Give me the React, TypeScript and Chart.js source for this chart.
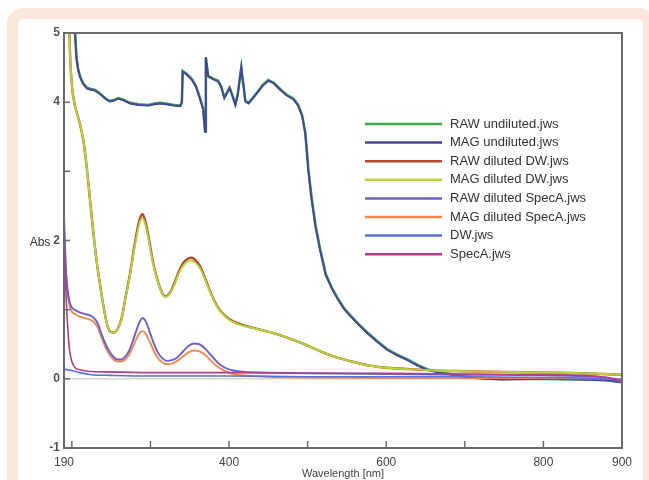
import React, { useEffect, useRef } from "react";
import { Chart, registerables } from "chart.js";

Chart.register(...registerables);

// ---------- data ----------
const X_TICKS = [190, 200, 300, 400, 500, 600, 700, 800, 900];
const X_LABELED = [190, 400, 600, 800, 900];
const Y_TICKS = [-1, 0, 1, 2, 3, 4, 5];
const Y_LABELED = [5, 4, 2, 0, -1];

const SERIES_NAMES = [
  "RAW undiluted.jws",
  "MAG undiluted.jws",
  "RAW diluted DW.jws",
  "MAG diluted DW.jws",
  "RAW diluted SpecA.jws",
  "MAG diluted SpecA.jws",
  "DW.jws",
  "SpecA.jws",
];

const SERIES_COLORS = [
  "#45a74f",
  "#43449c",
  "#b3472f",
  "#b8d43a",
  "#6d5fc8",
  "#f08a50",
  "#5b6fd8",
  "#b23d8c",
];

const rawUndiluted: [number, number][] = [
  [196, 6.0], [200, 5.6], [204, 5.0], [206, 4.63], [208, 4.48], [210.5, 4.37], [214, 4.28], [219, 4.21],
  [224, 4.19], [229, 4.18], [233, 4.15], [238, 4.1], [243, 4.05], [248, 4.02], [253, 4.03], [259, 4.06],
  [265, 4.04], [274, 3.99], [285, 3.97], [297, 3.96], [305, 3.98], [312, 3.99], [320, 3.98], [330, 3.96],
  [338, 3.95], [340, 4.0], [341, 4.45], [346, 4.41], [353, 4.33], [358, 4.23], [363, 4.06], [367, 3.91],
  [369.5, 3.58], [370.5, 4.64], [373.5, 4.38], [380, 4.34], [386, 4.31], [390, 4.23], [394, 4.07], [397, 4.13],
  [400.7, 4.21], [404, 4.11], [408, 3.97], [411, 4.11], [413.5, 4.33], [415.6, 4.5], [417, 4.36], [418.6, 4.23],
  [420.7, 4.02], [424.9, 3.99], [430, 4.06], [435.6, 4.14], [443, 4.25], [450, 4.32], [457, 4.28], [465, 4.19],
  [473, 4.11], [482, 4.05], [488, 3.96], [493, 3.81], [497, 3.56], [501, 3.02], [505, 2.62], [510, 2.22],
  [516, 1.87], [523, 1.52], [531, 1.31], [539, 1.15], [547, 1.01], [555, 0.91], [565, 0.79], [576, 0.67],
  [588, 0.55], [601, 0.43], [614, 0.35], [627, 0.28], [640, 0.2], [652, 0.14], [667, 0.1], [682, 0.07],
  [703, 0.03], [725, 0.01], [746, 0.0], [800, 0.0], [850, -0.01], [880, -0.02], [900, -0.05],
];

const magUndiluted: [number, number][] = [
  [196, 6.0], [200, 5.6], [204, 5.0], [206, 4.62], [208, 4.47], [210.5, 4.36], [214, 4.27], [219, 4.2],
  [224, 4.18], [229, 4.17], [233, 4.14], [238, 4.1], [243, 4.05], [248, 4.01], [253, 4.02], [259, 4.05],
  [265, 4.03], [274, 3.98], [285, 3.96], [297, 3.95], [305, 3.97], [312, 3.98], [320, 3.97], [330, 3.95],
  [338, 3.94], [340, 4.0], [341, 4.44], [346, 4.4], [353, 4.32], [358, 4.22], [363, 4.05], [367, 3.9],
  [369.5, 3.57], [370.5, 4.65], [373.5, 4.37], [380, 4.33], [386, 4.3], [390, 4.22], [394, 4.06], [397, 4.12],
  [400.7, 4.2], [404, 4.1], [408, 3.96], [411, 4.1], [413.5, 4.32], [415.6, 4.51], [417, 4.35], [418.6, 4.22],
  [420.7, 4.01], [424.9, 3.98], [430, 4.05], [435.6, 4.13], [443, 4.24], [450, 4.31], [457, 4.27], [465, 4.18],
  [473, 4.1], [482, 4.04], [488, 3.95], [493, 3.8], [497, 3.55], [501, 3.0], [505, 2.6], [510, 2.2],
  [516, 1.85], [523, 1.5], [531, 1.3], [539, 1.14], [547, 1.0], [555, 0.9], [565, 0.78], [576, 0.66],
  [588, 0.54], [601, 0.42], [614, 0.34], [627, 0.27], [640, 0.19], [652, 0.13], [667, 0.09], [682, 0.06],
  [703, 0.02], [725, 0.0], [746, -0.01], [800, 0.0], [850, -0.01], [880, -0.02], [900, -0.05],
];

const rawDilutedDW: [number, number][] = [
  [196, 5.3], [198, 4.6], [200, 4.25], [203, 4.0], [207, 3.82], [211, 3.65], [215, 3.42], [219, 3.05],
  [223, 2.6], [227, 2.15], [231, 1.75], [236, 1.35], [241, 1.0], [245, 0.78], [249, 0.68], [253, 0.67],
  [258, 0.72], [263, 0.86], [268, 1.16], [274, 1.52], [279, 1.88], [284, 2.2], [287, 2.33], [290, 2.38],
  [293, 2.3], [297, 2.09], [301, 1.83], [305, 1.6], [310, 1.39], [315, 1.24], [319, 1.19], [324, 1.23],
  [330, 1.37], [336, 1.55], [342, 1.68], [348, 1.74], [352, 1.75], [357, 1.72], [363, 1.63], [370, 1.44],
  [378, 1.21], [386, 1.03], [395, 0.91], [405, 0.83], [420, 0.77], [440, 0.71], [460, 0.65], [480, 0.57],
  [500, 0.48], [520, 0.38], [540, 0.3], [560, 0.24], [580, 0.19], [600, 0.16], [630, 0.14], [660, 0.12],
  [700, 0.11], [750, 0.1], [800, 0.09], [850, 0.08], [900, 0.06],
];

const magDilutedDW: [number, number][] = [
  [196, 5.3], [198, 4.6], [200, 4.25], [203, 4.0], [207, 3.82], [211, 3.65], [215, 3.42], [219, 3.05],
  [223, 2.6], [227, 2.15], [231, 1.75], [236, 1.35], [241, 1.0], [245, 0.78], [249, 0.68], [253, 0.67],
  [258, 0.72], [263, 0.85], [268, 1.15], [274, 1.5], [279, 1.85], [284, 2.15], [287, 2.28], [290, 2.32],
  [293, 2.25], [297, 2.05], [301, 1.8], [305, 1.58], [310, 1.38], [315, 1.23], [319, 1.18], [324, 1.22],
  [330, 1.35], [336, 1.52], [342, 1.64], [348, 1.7], [352, 1.71], [357, 1.68], [363, 1.6], [370, 1.42],
  [378, 1.2], [386, 1.02], [395, 0.9], [405, 0.82], [420, 0.76], [440, 0.71], [460, 0.65], [480, 0.57],
  [500, 0.48], [520, 0.38], [540, 0.3], [560, 0.24], [580, 0.19], [600, 0.16], [630, 0.14], [660, 0.12],
  [700, 0.11], [750, 0.1], [800, 0.09], [850, 0.08], [900, 0.06],
];

const rawDilutedSpecA: [number, number][] = [
  [190, 2.35], [192, 1.7], [194, 1.35], [197, 1.12], [200, 1.03], [205, 0.99], [210, 0.96], [216, 0.94],
  [222, 0.92], [228, 0.88], [233, 0.8], [238, 0.64], [243, 0.5], [248, 0.39], [253, 0.32], [258, 0.28],
  [263, 0.28], [268, 0.32], [273, 0.41], [278, 0.56], [283, 0.73], [287, 0.84], [290, 0.88], [294, 0.83],
  [299, 0.68], [304, 0.52], [309, 0.39], [315, 0.3], [321, 0.26], [327, 0.27], [334, 0.31], [341, 0.39],
  [348, 0.47], [355, 0.51], [362, 0.5], [370, 0.43], [378, 0.33], [386, 0.23], [395, 0.16], [405, 0.12],
  [420, 0.1], [450, 0.09], [500, 0.08], [600, 0.07], [700, 0.06], [800, 0.05], [850, 0.04], [880, 0.02],
  [900, -0.02],
];

const magDilutedSpecA: [number, number][] = [
  [190, 2.2], [192, 1.6], [194, 1.28], [197, 1.06], [200, 0.97], [205, 0.93], [210, 0.9], [216, 0.88],
  [222, 0.86], [228, 0.82], [233, 0.74], [238, 0.59], [243, 0.45], [248, 0.35], [253, 0.28], [258, 0.25],
  [263, 0.25], [268, 0.28], [273, 0.35], [278, 0.47], [283, 0.6], [287, 0.67], [290, 0.69], [294, 0.65],
  [299, 0.54], [304, 0.41], [309, 0.31], [315, 0.24], [321, 0.21], [327, 0.22], [334, 0.26], [341, 0.32],
  [348, 0.38], [355, 0.41], [362, 0.4], [370, 0.34], [378, 0.25], [386, 0.17], [395, 0.11], [405, 0.07],
  [420, 0.05], [450, 0.03], [500, 0.02], [600, 0.01], [700, 0.01], [800, 0.01], [900, 0.0],
];

const dw: [number, number][] = [
  [190, 0.14], [200, 0.12], [210, 0.09], [225, 0.06], [250, 0.05], [300, 0.04], [400, 0.04], [500, 0.03],
  [600, 0.03], [700, 0.03], [800, 0.02], [850, 0.01], [900, -0.02],
];

const specA: [number, number][] = [
  [190, 2.0], [191, 1.7], [193, 1.1], [195, 0.7], [197, 0.42], [200, 0.25], [204, 0.16], [210, 0.13],
  [220, 0.11], [250, 0.1], [300, 0.09], [400, 0.09], [500, 0.08], [600, 0.08], [700, 0.07], [800, 0.06],
  [850, 0.05], [880, 0.02], [890, -0.01], [900, -0.05],
];

const SERIES_DATA = [
  rawUndiluted,
  magUndiluted,
  rawDilutedDW,
  magDilutedDW,
  rawDilutedSpecA,
  magDilutedSpecA,
  dw,
  specA,
];
// drawing order (higher drawn first / underneath)
const SERIES_ORDER = [8, 7, 6, 5, 3, 4, 2, 1];
const SERIES_WIDTH = [2.6, 1.9, 2.4, 1.9, 1.9, 1.9, 1.6, 1.6];
const SERIES_SMOOTH = [false, false, true, true, true, true, true, true];

const FONT = "'Liberation Sans', Arial, sans-serif";

const decorPlugin = {
  id: "decor",
  beforeDatasetsDraw(chart: any) {
    const { ctx, chartArea: a, scales } = chart;
    const y0 = scales.y.getPixelForValue(0);
    ctx.save();
    ctx.strokeStyle = "#d6d6d6";
    ctx.lineWidth = 1.5;
    ctx.beginPath();
    ctx.moveTo(a.left, y0);
    ctx.lineTo(a.right, y0);
    ctx.stroke();
    ctx.restore();
  },
  afterDatasetsDraw(chart: any) {
    const { ctx, chartArea: a, scales } = chart;
    ctx.save();
    // frame
    ctx.strokeStyle = "#6a6a6a";
    ctx.lineWidth = 2;
    ctx.strokeRect(a.left, a.top, a.right - a.left, a.bottom - a.top);
    // inward ticks
    ctx.lineWidth = 1.5;
    ctx.beginPath();
    X_TICKS.forEach((v) => {
      if (v === 190 || v === 900) return;
      const x = scales.x.getPixelForValue(v);
      ctx.moveTo(x, a.bottom);
      ctx.lineTo(x, a.bottom - 7);
    });
    Y_TICKS.forEach((v) => {
      const y = scales.y.getPixelForValue(v);
      ctx.moveTo(a.left, y);
      ctx.lineTo(a.left + 6, y);
    });
    ctx.stroke();
    // y-axis title
    ctx.fillStyle = "#333";
    ctx.font = `12px ${FONT}`;
    ctx.textAlign = "center";
    ctx.textBaseline = "middle";
    ctx.fillText("Abs", 40, scales.y.getPixelForValue(2) + 2);
    // x-axis title
    ctx.font = `11px ${FONT}`;
    ctx.fillStyle = "#444";
    ctx.fillText("Wavelength [nm]", (a.left + a.right) / 2, 474);
    // legend
    ctx.textAlign = "left";
    ctx.font = `13px ${FONT}`;
    SERIES_NAMES.forEach((name, i) => {
      const y = 124 + i * 18.6;
      ctx.strokeStyle = SERIES_COLORS[i];
      ctx.lineWidth = 2.5;
      ctx.beginPath();
      ctx.moveTo(365, y);
      ctx.lineTo(442, y);
      ctx.stroke();
      ctx.fillStyle = "#333";
      ctx.fillText(name, 450, y);
    });
    ctx.restore();
  },
};

export default function App() {
  const ref = useRef<HTMLCanvasElement | null>(null);

  useEffect(() => {
    if (!ref.current) return;
    Chart.defaults.font.family = FONT;
    const datasets = SERIES_NAMES.map((name, i) => ({
      label: name,
      data: SERIES_DATA[i].map(([x, y]) => ({ x, y })),
      borderColor: SERIES_COLORS[i],
      backgroundColor: SERIES_COLORS[i],
      borderWidth: SERIES_WIDTH[i],
      pointRadius: 0,
      order: SERIES_ORDER[i],
      tension: 0,
      cubicInterpolationMode: SERIES_SMOOTH[i] ? "monotone" : "default",
      fill: false,
    }));
    const chart = new Chart(ref.current, {
      type: "line",
      data: { datasets } as any,
      options: {
        animation: false,
        responsive: false,
        devicePixelRatio: 1,
        layout: { padding: { left: 0, top: 33, right: 27, bottom: 0 } },
        plugins: { legend: { display: false }, tooltip: { enabled: false } },
        scales: {
          x: {
            type: "linear",
            min: 190,
            max: 900,
            grid: { display: false, drawTicks: false },
            border: { display: false },
            afterBuildTicks: (scale: any) => {
              scale.ticks = X_TICKS.map((v) => ({ value: v }));
            },
            afterFit: (scale: any) => {
              scale.height = 32;
            },
            ticks: {
              autoSkip: false,
              maxRotation: 0,
              padding: 7,
              color: "#444",
              font: { size: 12 },
              callback: (v: any) => (X_LABELED.includes(Number(v)) ? String(v) : ""),
            },
          },
          y: {
            type: "linear",
            min: -1,
            max: 5,
            grid: { display: false, drawTicks: false },
            border: { display: false },
            afterBuildTicks: (scale: any) => {
              scale.ticks = Y_TICKS.map((v) => ({ value: v }));
            },
            afterFit: (scale: any) => {
              scale.width = 64;
            },
            ticks: {
              autoSkip: false,
              padding: 4,
              color: "#555",
              font: { size: 12, weight: "bold" },
              callback: (v: any) => (Y_LABELED.includes(Number(v)) ? String(v) : ""),
            },
          },
        },
      } as any,
      plugins: [decorPlugin],
    });
    return () => chart.destroy();
  }, []);

  return (
    <div
      style={{
        position: "fixed",
        left: 0,
        top: 0,
        width: 649,
        height: 480,
        overflow: "hidden",
        background: "#fff",
      }}
    >
      <div
        style={{
          position: "absolute",
          left: 7,
          top: 8,
          width: 647,
          height: 600,
          border: "11px solid #fbe8dc",
          borderRadius: 16,
          boxSizing: "border-box",
        }}
      />
      <canvas
        ref={ref}
        width={649}
        height={480}
        style={{ position: "absolute", left: 0, top: 0, width: 649, height: 480, display: "block" }}
      />
    </div>
  );
}
